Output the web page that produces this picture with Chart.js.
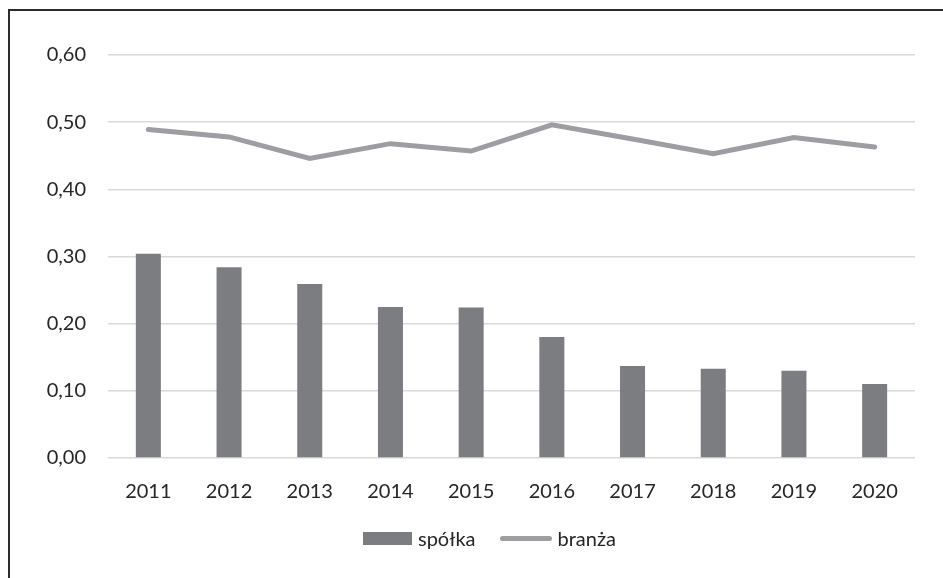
<!DOCTYPE html>
<html lang="pl">
<head>
<meta charset="utf-8">
<title>spółka / branża 2011-2020</title>
<script src="https://cdn.jsdelivr.net/npm/chart.js@4/dist/chart.umd.min.js"></script>
<style>
  html, body { margin: 0; padding: 0; background: #fff; overflow: hidden; }
  #wrap { position: relative; width: 943px; height: 578px; font-family: Lato, "Open Sans", sans-serif; }
  #frame {
    position: absolute; left: 8px; top: 9px; width: 1000px; height: 700px;
    border-left: 2px solid #2b2b2b; border-top: 2px solid #2b2b2b;
  }
  #chart { position: absolute; left: 0; top: 0; }
  #legend {
    position: absolute; left: 363px; top: 527px; height: 22px;
    display: flex; align-items: center; font-size: 20px; color: #262626;
  }
  .legend-item { display: flex; align-items: center; margin-right: 25px; }
  .legend-bar { width: 49px; height: 13px; margin-right: 6px; }
  .legend-line { width: 52px; height: 5px; border-radius: 3px; margin-right: 5px; }
</style>
</head>
<body>
<div id="wrap">
  <div id="frame"></div>
  <canvas id="chart" width="943" height="578"></canvas>
  <div id="legend"></div>
</div>
<script>
// Years on the x axis
const years = ['2011', '2012', '2013', '2014', '2015', '2016', '2017', '2018', '2019', '2020'];

// Company ratio (bars)
const spolka = [0.304, 0.284, 0.259, 0.225, 0.224, 0.180, 0.137, 0.133, 0.130, 0.110];

// Industry ratio (line)
const branza = [0.489, 0.478, 0.446, 0.468, 0.457, 0.496, 0.475, 0.453, 0.477, 0.463];

// Y axis range
const yMin = 0;
const yMax = 0.6;
const yStep = 0.1;

const textColor = '#262626';
const barColor = '#7c7d81';
const lineColor = '#9d9ea2';
const gridColor = '#d9d9d9';

Chart.defaults.font.family = 'Lato, "Open Sans", sans-serif';
Chart.defaults.font.size = 20;
Chart.defaults.color = textColor;

const ctx = document.getElementById('chart').getContext('2d');

const chart = new Chart(ctx, {
  data: {
    labels: years,
    datasets: [
      {
        type: 'bar',
        label: 'spółka',
        data: spolka,
        backgroundColor: barColor,
        borderWidth: 0,
        categoryPercentage: 1,
        barPercentage: 0.31,
        order: 2,
      },
      {
        type: 'line',
        label: 'branża',
        data: branza,
        borderColor: lineColor,
        backgroundColor: lineColor,
        borderWidth: 5,
        borderCapStyle: 'round',
        borderJoinStyle: 'miter',
        pointRadius: 0,
        tension: 0,
        order: 1,
      },
    ],
  },
  options: {
    responsive: false,
    animation: false,
    layout: {
      padding: { left: 0, right: 28, top: 55, bottom: 52 },
    },
    plugins: {
      tooltip: { enabled: false },
      legend: { display: false },
    },
    scales: {
      x: {
        grid: { display: false, drawTicks: false },
        border: { display: false },
        ticks: { padding: 22, color: textColor, font: { size: 20 } },
      },
      y: {
        min: yMin,
        max: yMax,
        afterFit: (scale) => { scale.width = 108; },
        grid: { color: gridColor, lineWidth: 1.5, drawTicks: false },
        border: { display: false },
        ticks: {
          stepSize: yStep,
          padding: 22,
          color: textColor,
          font: { size: 20 },
          callback: (v) => v.toFixed(2).replace('.', ','),
        },
      },
    },
  },
});

// Legend below the chart, built from the datasets
const legend = document.getElementById('legend');
chart.data.datasets.forEach((ds) => {
  const item = document.createElement('div');
  item.className = 'legend-item';
  const swatch = document.createElement('span');
  swatch.className = ds.type === 'bar' ? 'legend-bar' : 'legend-line';
  swatch.style.background = ds.type === 'bar' ? ds.backgroundColor : ds.borderColor;
  const label = document.createElement('span');
  label.textContent = ds.label;
  item.appendChild(swatch);
  item.appendChild(label);
  legend.appendChild(item);
});
</script>
</body>
</html>
